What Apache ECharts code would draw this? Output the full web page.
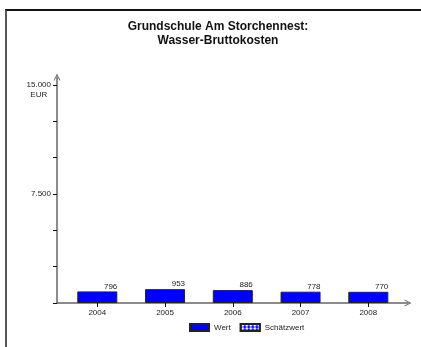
<!DOCTYPE html>
<html>
<head>
<meta charset="utf-8">
<script src="https://cdn.jsdelivr.net/npm/echarts@6/dist/echarts.min.js"></script>
<style>
html,body{margin:0;padding:0;background:#fff;}
#wrap{position:relative;width:421px;height:347px;overflow:hidden;}
#frame{position:absolute;left:5px;top:9px;width:430px;height:360px;border-left:2px solid #555;border-top:2px solid #111;box-sizing:border-box;}
#chart{position:absolute;left:0;top:0;width:421px;height:347px;}
</style>
</head>
<body>
<div id="wrap"><div id="frame"></div><div id="chart"></div></div>
<script>
const categories = ['2004', '2005', '2006', '2007', '2008'];
const wertValues = [796, 953, 886, 778, 770];
const yTickValues = [0, 2500, 5000, 7500, 10000, 12500, 15000];
const yLabelValues = [7500, 15000];
const titleText = 'Grundschule Am Storchennest:\nWasser-Bruttokosten';

const fmt = v => String(v).replace(/\B(?=(\d{3})+(?!\d))/g, '.');
const catIdx = categories.map((c, i) => i);
const chart = echarts.init(document.getElementById('chart'), null, {renderer: 'canvas'});
const arrow = 'path://M0,10 L5,0 L10,10 L8.6,10 L5,3 L1.4,10 Z';
chart.setOption({
  animation: false,
  textStyle: {fontFamily: 'Liberation Sans, Arial, sans-serif'},
  title: {
    text: titleText,
    left: 218, textAlign: 'center', top: 20, padding: 0,
    textStyle: {fontSize: 12, fontWeight: 'bold', color: '#111', lineHeight: 14}
  },
  legend: {
    data: ['Wert', 'Schätzwert'],
    left: 189, top: 323, padding: 0,
    itemWidth: 19, itemHeight: 7, itemGap: 9,
    textStyle: {fontSize: 8, color: '#222'},
    icon: 'rect'
  },
  grid: {left: 57, right: 13, top: 77, bottom: 44},
  xAxis: {
    type: 'value', min: -0.595, max: 4.586,
    splitLine: {show: false},
    axisLine: {show: true, onZero: false, lineStyle: {color: '#666', width: 1.5}, symbol: ['none', arrow], symbolSize: [7, 8]},
    axisTick: {show: true, customValues: catIdx, length: 4, lineStyle: {color: '#111'}},
    axisLabel: {customValues: catIdx, fontSize: 8, color: '#222', margin: 6, formatter: v => categories[v]}
  },
  yAxis: {
    type: 'value', min: 0, max: 15550,
    splitLine: {show: false},
    axisLine: {show: true, onZero: false, lineStyle: {color: '#666', width: 1.5}, symbol: ['none', arrow], symbolSize: [7, 8]},
    axisTick: {show: true, customValues: yTickValues, length: 4, lineStyle: {color: '#111'}},
    axisLabel: {
      customValues: yLabelValues, fontSize: 8, color: '#222', margin: 6,
      formatter: v => v === 15000 ? '{a| }\n{a|' + fmt(v) + '}\n{a|EUR}' : fmt(v),
      rich: {a: {fontSize: 8, lineHeight: 10, align: 'center', color: '#222'}}
    }
  },
  series: [
    {
      name: 'Wert', type: 'bar', barWidth: 40, stack: 'k',
      data: wertValues.map((v, i) => [i, v]),
      itemStyle: {color: '#0000ff', borderColor: '#222', borderWidth: 1},
      label: {
        show: true, position: ['100%', -1], align: 'right', verticalAlign: 'bottom',
        fontSize: 8, color: '#222', formatter: p => fmt(p.value[1])
      }
    },
    {
      name: 'Schätzwert', type: 'bar', barWidth: 40, stack: 'k', data: [],
      itemStyle: {
        color: '#0000ff', borderColor: '#222', borderWidth: 1,
        decal: {symbol: 'circle', color: '#ffffff', symbolSize: 0.9, dashArrayX: [[4, 0]], dashArrayY: [3, 0], rotation: 0}
      }
    }
  ]
});
</script>
</body>
</html>
